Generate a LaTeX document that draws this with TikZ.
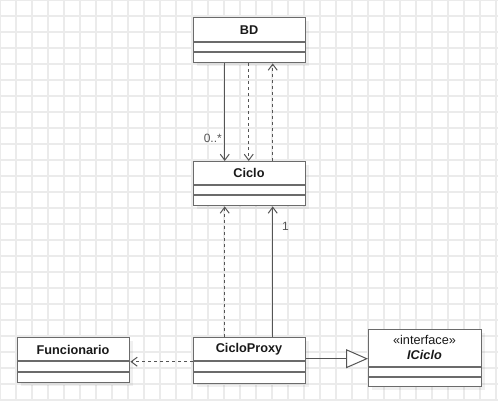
\documentclass[tikz,border=0pt]{standalone}
\usepackage{fontspec}
\setmainfont{Liberation Sans}
\usetikzlibrary{arrows.meta,calc}
\definecolor{gridc}{HTML}{EBEBEB}
\definecolor{boxc}{HTML}{6B6B6B}
\definecolor{linec}{HTML}{555555}
\definecolor{lblc}{HTML}{555555}
\tikzset{
  clsbox/.style={draw=boxc, line width=1.4pt, fill=white, anchor=north west, inner sep=0pt},
  clsshadow/.style={fill=black, opacity=0.06, anchor=north west, inner sep=0pt, draw=none},
  sepline/.style={draw=boxc, line width=1.4pt},
  clsname/.style={font=\bfseries\fontsize{12.7}{15}\selectfont, text=black!90},
  assoc/.style={draw=linec, line width=1pt, -{Straight Barb[length=6pt,width=9pt,line width=1pt]}},
  depend/.style={assoc, dash pattern=on 3pt off 3pt},
  realize/.style={draw=linec, line width=1pt, -{Triangle[open,length=22pt,width=19pt,line width=1pt,fill=white]}},
  mult/.style={font=\fontsize{12}{14}\selectfont, text=lblc, inner sep=0pt}
}
\begin{document}
\begin{tikzpicture}[x=1pt,y=-1pt]
\useasboundingbox (0,0) rectangle (498,401);
\fill[white] (0,0) rectangle (498,401);
% grid
\foreach \gx in {0,16,...,496} \draw[gridc, line width=1.2pt] (\gx,0) -- (\gx,401);
\foreach \gy in {0,16,...,400} \draw[gridc, line width=1.2pt] (0,\gy) -- (498,\gy);

% shadows
\node[clsshadow, minimum width=112pt, minimum height=45pt] at (197,21) {};
\node[clsshadow, minimum width=112pt, minimum height=44pt] at (197,165) {};
\node[clsshadow, minimum width=112pt, minimum height=46pt] at (197,341) {};
\node[clsshadow, minimum width=112pt, minimum height=45pt] at (21,341) {};
\node[clsshadow, minimum width=113pt, minimum height=57pt] at (372,333) {};

% BD
\node[clsbox, minimum width=112pt, minimum height=45pt] (bd) at (193,17) {};
\draw[sepline] (193,42) -- (305,42);
\draw[sepline] (193,52) -- (305,52);
\node[clsname] (bdn) at (249,30) {BD};

% Ciclo
\node[clsbox, minimum width=112pt, minimum height=44pt] (ciclo) at (193,161) {};
\draw[sepline] (193,185) -- (305,185);
\draw[sepline] (193,195) -- (305,195);
\node[clsname] (ciclon) at (249,173) {Ciclo};

% CicloProxy
\node[clsbox, minimum width=112pt, minimum height=46pt] (proxy) at (193,337) {};
\draw[sepline] (193,361) -- (305,361);
\draw[sepline] (193,372) -- (305,372);
\node[clsname] (proxyn) at (249,349) {CicloProxy};

% Funcionario
\node[clsbox, minimum width=112pt, minimum height=45pt] (func) at (17,337) {};
\draw[sepline] (17,361) -- (129,361);
\draw[sepline] (17,372) -- (129,372);
\node[clsname] (funcn) at (73,350) {Funcionario};

% ICiclo
\node[clsbox, minimum width=113pt, minimum height=57pt] (iciclo) at (368,329) {};
\draw[sepline] (368,367) -- (481,367);
\draw[sepline] (368,377) -- (481,377);
\node[font=\fontsize{12.7}{15}\selectfont, text=black!90] (icst) at (424.5,340) {«interface»};
\node[font=\bfseries\itshape\fontsize{12.7}{15}\selectfont, text=black!90] (icn) at (424.5,355) {ICiclo};

% connectors
\draw[assoc] ([xshift=-25pt]bd.south) -- ([xshift=-25pt]ciclo.north);
\draw[depend] ([xshift=-1pt]bd.south) -- ([xshift=-1pt]ciclo.north);
\draw[depend] ([xshift=23pt]ciclo.north) -- ([xshift=23pt]bd.south);
\node[mult, anchor=east] (m0) at (222,138) {0..*};

\draw[depend] ([xshift=-25pt]proxy.north) -- ([xshift=-25pt]ciclo.south);
\draw[assoc] ([xshift=23pt]proxy.north) -- ([xshift=23pt]ciclo.south);
\node[mult, anchor=west] (m1) at (282,226) {1};

\draw[depend] ([yshift=-1pt]proxy.west) -- ([yshift=-1pt]proxy.west -| func.east);
\draw[realize] ([yshift=2pt]proxy.east) -- ([yshift=2pt]proxy.east -| iciclo.west);
\end{tikzpicture}
\end{document}
